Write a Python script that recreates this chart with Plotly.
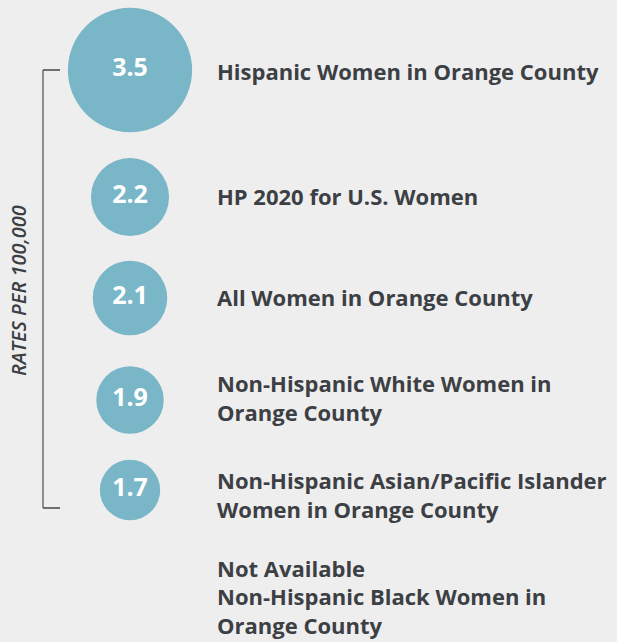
import plotly.graph_objects as go

# ---- data ----
categories = [
    "Hispanic Women in Orange County",
    "HP 2020 for U.S. Women",
    "All Women in Orange County",
    "Non-Hispanic White Women in<br>Orange County",
    "Non-Hispanic Asian/Pacific Islander<br>Women in Orange County",
]
rates = [3.5, 2.2, 2.1, 1.9, 1.7]
rate_labels = ["3.5", "2.2", "2.1", "1.9", "1.7"]
na_label = "Not Available<br>Non-Hispanic Black Women in<br>Orange County"
axis_title = "RATES PER 100,000"

# ---- layout (pixel positions) ----
W, H = 617, 642
row_y = [70, 197, 298, 400, 490]
label_y = [74, 199, 300, 401, 498]
na_y = 600
circle_x = 130
label_x = 217
size_scale = 35.5  # diameter px per unit rate

BG = "#EEEEEE"
TEAL = "#79B6C7"
TXT = "#3C3F44"
FONT = "Open Sans"

fig = go.Figure()

fig.add_trace(go.Scatter(
    x=[circle_x] * len(rates), y=row_y,
    mode="markers+text",
    marker=dict(size=[r * size_scale for r in rates], sizemode="diameter",
                color=TEAL, line=dict(width=0), opacity=1),
    text=[f"<b>{t}</b>" for t in rate_labels],
    textposition="middle center",
    textfont=dict(family=FONT, size=25, color="white"),
    hoverinfo="skip", showlegend=False,
))

fig.add_trace(go.Scatter(
    x=[label_x] * (len(categories) + 1), y=label_y + [na_y],
    mode="text",
    text=[f"<b>{c}</b>" for c in categories] + [f"<b>{na_label}</b>"],
    textposition="middle right",
    textfont=dict(family=FONT, size=22, color=TXT),
    hoverinfo="skip", showlegend=False,
))

# bracket
fig.add_shape(type="line", x0=43, x1=43, y0=row_y[0], y1=508,
              line=dict(color="#6E6E6E", width=1.5), xref="x", yref="y")
fig.add_shape(type="line", x0=43, x1=60, y0=row_y[0], y1=row_y[0],
              line=dict(color="#444444", width=1.5), xref="x", yref="y")
fig.add_shape(type="line", x0=43, x1=60, y0=508, y1=508,
              line=dict(color="#444444", width=1.5), xref="x", yref="y")

fig.add_annotation(x=18, y=291, xref="x", yref="y", text=axis_title,
                   textangle=-90, showarrow=False,
                   font=dict(family=FONT, size=20, color=TXT, style="italic",
                             weight=600))

fig.update_xaxes(range=[0, W], visible=False, fixedrange=True)
fig.update_yaxes(range=[H, 0], visible=False, fixedrange=True)
fig.update_layout(width=W, height=H, margin=dict(l=0, r=0, t=0, b=0),
                  paper_bgcolor=BG, plot_bgcolor=BG)

fig.write_html("out.html", config={"displayModeBar": False})
